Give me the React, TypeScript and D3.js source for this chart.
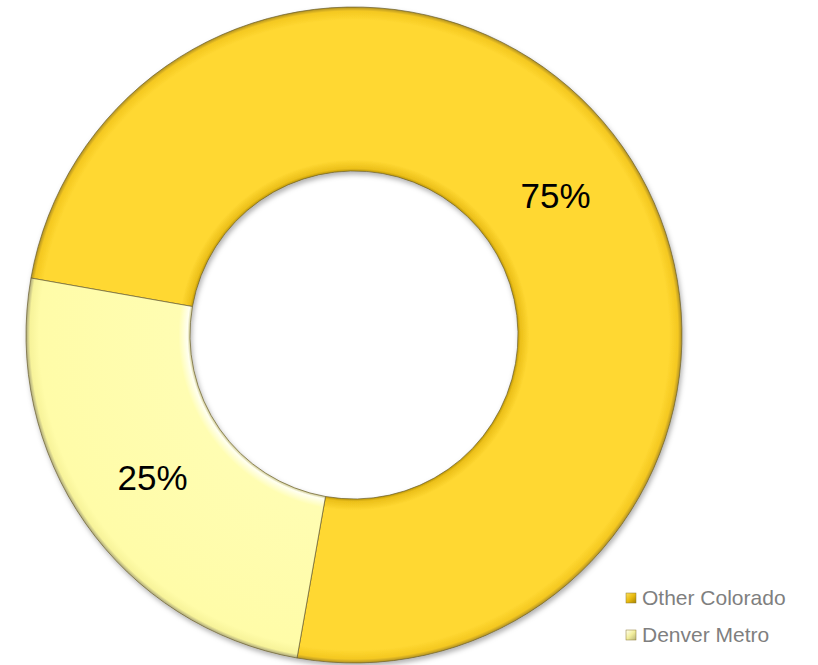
import React from "react";
import * as d3 from "d3";

const categories = ["Other Colorado", "Denver Metro"];
const values = [75, 25];
const labels = ["75%", "25%"];

const W = 818;
const H = 665;
const CX = 354;
const CY = 335;
const R_OUT = 328;
const R_IN = 164;
const START_DEG = -80;

type Datum = { name: string; value: number; label: string };

export default function App() {
  const data: Datum[] = categories.map((c, i) => ({ name: c, value: values[i], label: labels[i] }));
  const pie = d3
    .pie<Datum>()
    .sort(null)
    .value((d) => d.value)
    .startAngle((START_DEG * Math.PI) / 180)
    .endAngle((START_DEG * Math.PI) / 180 + 2 * Math.PI);
  const arcs = pie(data);
  const arc = d3.arc<d3.PieArcDatum<Datum>>().innerRadius(R_IN).outerRadius(R_OUT);
  const fills = ["url(#gGold)", "url(#gLight)"];
  const legendFills = ["url(#lgGold)", "url(#lgLight)"];
  const legendY = d3.scalePoint<string>().domain(categories).range([598, 635]);

  return (
    <svg
      width={W}
      height={H}
      style={{ position: "absolute", left: 0, top: 0, display: "block" }}
      fontFamily="'Liberation Sans', Arial, sans-serif"
    >
      <defs>
        <radialGradient id="gGold" gradientUnits="userSpaceOnUse" cx={0} cy={0} r={R_OUT}>
          <stop offset="0.5" stopColor="#c09a08" />
          <stop offset="0.508" stopColor="#ecc01a" />
          <stop offset="0.535" stopColor="#ffd832" />
          <stop offset="0.96" stopColor="#ffd832" />
          <stop offset="0.988" stopColor="#f4c820" />
          <stop offset="1" stopColor="#b09020" />
        </radialGradient>
        <radialGradient id="gLight" gradientUnits="userSpaceOnUse" cx={0} cy={0} r={R_OUT}>
          <stop offset="0.5" stopColor="#cfcb92" />
          <stop offset="0.508" stopColor="#fffff0" />
          <stop offset="0.535" stopColor="#fffdb2" />
          <stop offset="0.96" stopColor="#fffca8" />
          <stop offset="0.988" stopColor="#f7f39a" />
          <stop offset="1" stopColor="#aaa67a" />
        </radialGradient>
        <linearGradient id="lgGold" x1="0" y1="0" x2="1" y2="1">
          <stop offset="0" stopColor="#fbe060" />
          <stop offset="0.5" stopColor="#e9bb10" />
          <stop offset="1" stopColor="#a88400" />
        </linearGradient>
        <linearGradient id="lgLight" x1="0" y1="0" x2="1" y2="1">
          <stop offset="0" stopColor="#fffff0" />
          <stop offset="0.5" stopColor="#f2ee9c" />
          <stop offset="1" stopColor="#b8b478" />
        </linearGradient>
        <filter id="shadow" x="-10%" y="-10%" width="120%" height="120%">
          <feDropShadow dx="1.5" dy="3" stdDeviation="2.5" floodColor="#000" floodOpacity="0.3" />
        </filter>
      </defs>
      <rect width={W} height={H} fill="#fff" />
      <g transform={`translate(${CX},${CY})`} filter="url(#shadow)">
        {arcs.map((a, i) => (
          <path key={a.data.name} d={arc(a) || ""} fill={fills[i]} stroke="#6b6030" strokeWidth={0.7} />
        ))}
      </g>
      <g transform={`translate(${CX},${CY})`}>
        {arcs.map((a) => {
          const [x, y] = arc.centroid(a);
          return (
            <text key={a.data.name + "l"} x={x} y={y} dy="0.4em" textAnchor="middle" fontSize={35} fill="#000">
              {a.data.label}
            </text>
          );
        })}
      </g>
      <g>
        {categories.map((c, i) => {
          const y = legendY(c) as number;
          return (
            <g key={c}>
              <rect x={626} y={y - 5} width={10} height={10} fill={legendFills[i]} stroke="#8a7a30" strokeWidth={0.5} />
              <text x={642} y={y + 7} fontSize={21} fill="#7f7f7f">
                {c}
              </text>
            </g>
          );
        })}
      </g>
    </svg>
  );
}
